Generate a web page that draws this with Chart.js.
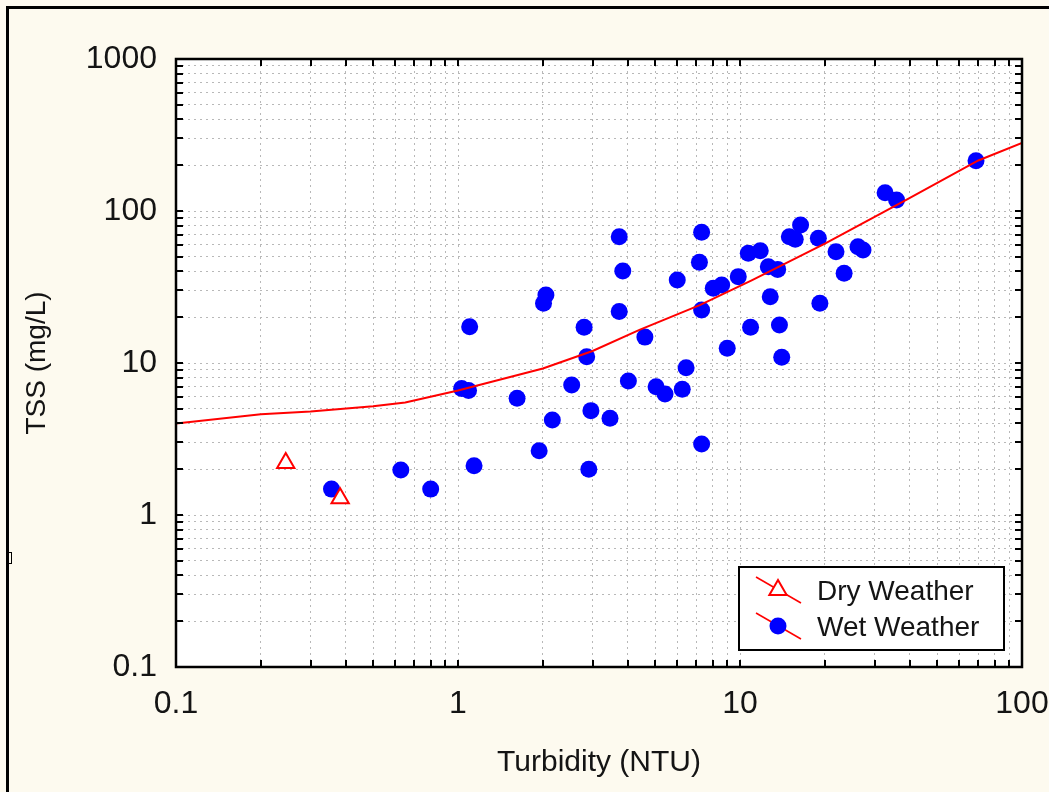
<!DOCTYPE html>
<html>
<head>
<meta charset="utf-8">
<title>TSS vs Turbidity</title>
<script src="https://cdn.jsdelivr.net/npm/chart.js@4/dist/chart.umd.min.js"></script>
<style>
  html, body { margin: 0; padding: 0; background: #fdfaef; }
  #wrap { width: 1049px; height: 792px; }
</style>
</head>
<body>
<div id="wrap"><canvas id="c" width="1049" height="792"></canvas></div>
<script>
// Dry weather samples
const dryTurbidity = [0.245, 0.382];
const dryTss       = [2.20, 1.29];

// Wet weather samples
const wetTurbidity = [0.356, 0.627, 0.80, 1.14, 1.94, 1.03, 1.09, 1.10, 1.62, 2.05,
                      2.01, 2.16, 2.53, 2.80, 2.86, 2.91, 2.96, 3.46, 3.73, 3.73,
                      3.84, 4.02, 4.60, 5.04, 5.42, 5.99, 6.24, 6.44, 7.31, 7.18,
                      7.31, 7.31, 8.04, 8.61, 9.01, 9.86, 10.7, 11.8, 10.9, 12.6,
                      13.6, 12.8, 13.8, 14.06, 14.96, 15.7, 16.4, 18.96, 19.2, 21.9,
                      23.4, 26.2, 27.3, 32.7, 35.9, 68.7];
const wetTss       = [1.48, 1.98, 1.48, 2.11, 2.65, 6.8, 6.6, 17.3, 5.86, 28,
                      24.7, 4.22, 7.16, 17.2, 11.0, 2.0, 4.86, 4.33, 67.7, 21.8,
                      40.3, 7.62, 14.8, 6.98, 6.25, 35.2, 6.71, 9.3, 72.4, 46,
                      22.3, 2.93, 31, 32.6, 12.5, 37, 52.7, 54.8, 17.2, 43,
                      41.3, 27.3, 17.8, 10.9, 67.7, 65.2, 80.9, 66.1, 24.7, 54,
                      38.9, 58.2, 55.4, 132, 118, 214];

// Regression curve
const fitTurbidity = [0.1, 0.2, 0.3, 0.5, 0.65, 1, 2, 3, 4.4, 7.2, 11, 20, 39, 70, 100];
const fitTss       = [4.0, 4.6, 4.8, 5.2, 5.5, 6.6, 9.2, 12.0, 16.5, 24, 35, 61, 119, 215, 280];

// Axis decades and their labels
const xDecades = [0.1, 1, 10, 100];
const xTickLabels = ['0.1', '1', '10', '100'];
const yDecades = [0.1, 1, 10, 100, 1000];
const yTickLabels = ['0.1', '1', '10', '100', '1000'];
const minorSteps = [1, 2, 3, 4, 5, 6, 7, 8, 9];

const CREAM = '#fdfaef';
const INK = '#141414';
const GRID = '#b8b8b8';

function logTickValues(decades) {
  const out = [];
  for (let i = 0; i < decades.length - 1; i++) {
    for (const m of minorSteps) out.push(Number((decades[i] * m).toPrecision(6)));
  }
  out.push(decades[decades.length - 1]);
  return out;
}
function labelFor(decades, labels) {
  return (v) => {
    const i = decades.findIndex(d => Math.abs(d - v) / d < 1e-6);
    return i >= 0 ? labels[i] : '';
  };
}
const pts = (xs, ys) => xs.map((x, i) => ({ x, y: ys[i] }));

Chart.defaults.font.family = "'Liberation Sans', Arial, sans-serif";
Chart.defaults.color = INK;

// Background, plot frame, inward tick marks and legend
const framePlugin = {
  id: 'framePlugin',
  beforeDraw(chart) {
    const { ctx, width, height, chartArea: a } = chart;
    ctx.save();
    ctx.fillStyle = CREAM;
    ctx.fillRect(0, 0, width, height);
    ctx.fillStyle = '#000';
    ctx.fillRect(6, 6, width - 6, 3);
    ctx.fillRect(6, 6, 3, height - 6);
    ctx.strokeStyle = '#000';
    ctx.lineWidth = 1;
    ctx.strokeRect(8.5, 552.5, 3, 11);
    ctx.fillStyle = '#ffffff';
    ctx.fillRect(a.left, a.top, a.right - a.left, a.bottom - a.top);
    ctx.restore();
  },
  afterDraw(chart) {
    const { ctx, chartArea: a, scales } = chart;
    const tl = 7;
    ctx.save();
    ctx.strokeStyle = '#000';
    ctx.lineWidth = 2;
    ctx.beginPath();
    for (const t of scales.x.ticks) {
      const px = Math.round(scales.x.getPixelForValue(t.value));
      ctx.moveTo(px, a.bottom); ctx.lineTo(px, a.bottom - tl);
      ctx.moveTo(px, a.top); ctx.lineTo(px, a.top + tl);
    }
    for (const t of scales.y.ticks) {
      const py = Math.round(scales.y.getPixelForValue(t.value));
      ctx.moveTo(a.left, py); ctx.lineTo(a.left + tl, py);
      ctx.moveTo(a.right, py); ctx.lineTo(a.right - tl, py);
    }
    ctx.stroke();
    ctx.lineWidth = 2.5;
    ctx.strokeRect(a.left, a.top, a.right - a.left, a.bottom - a.top);

    // legend box
    const bx = a.right - 283, by = a.bottom - 100, bw = 265, bh = 83;
    ctx.fillStyle = '#ffffff';
    ctx.fillRect(bx, by, bw, bh);
    ctx.lineWidth = 2;
    ctx.strokeStyle = '#000';
    ctx.strokeRect(bx, by, bw, bh);

    const entries = chart.data.datasets.filter(d => d.inLegend);
    entries.forEach((ds, i) => {
      const y0 = by + 10 + i * 36;
      ctx.strokeStyle = '#ff0000';
      ctx.lineWidth = 1.5;
      ctx.beginPath();
      ctx.moveTo(bx + 17, y0);
      ctx.lineTo(bx + 62, y0 + 26);
      ctx.stroke();
      const mx = bx + 39, my = y0 + 13;
      ctx.beginPath();
      if (ds.pointStyle === 'triangle') {
        const r = ds.pointRadius;
        for (let k = 0; k < 3; k++) {
          const ang = k * 2 * Math.PI / 3;
          const px = mx + Math.sin(ang) * r, py = my - Math.cos(ang) * r;
          if (k === 0) ctx.moveTo(px, py); else ctx.lineTo(px, py);
        }
        ctx.closePath();
      } else {
        ctx.arc(mx, my, ds.pointRadius, 0, Math.PI * 2);
      }
      ctx.fillStyle = ds.backgroundColor;
      ctx.fill();
      if (ds.borderWidth) {
        ctx.strokeStyle = ds.borderColor;
        ctx.lineWidth = ds.borderWidth;
        ctx.stroke();
      }
      ctx.fillStyle = INK;
      ctx.font = "28px 'Liberation Sans', Arial, sans-serif";
      ctx.textBaseline = 'middle';
      ctx.textAlign = 'left';
      ctx.fillText(ds.label, bx + 78, my + 2);
    });
    ctx.restore();
  }
};

new Chart(document.getElementById('c'), {
  type: 'scatter',
  data: {
    datasets: [
      {
        label: 'Fit',
        data: pts(fitTurbidity, fitTss),
        showLine: true,
        borderColor: '#ff0000',
        borderWidth: 2,
        pointRadius: 0,
        tension: 0,
        fill: false,
        order: 0
      },
      {
        label: 'Dry Weather',
        inLegend: true,
        data: pts(dryTurbidity, dryTss),
        pointStyle: 'triangle',
        pointRadius: 10,
        borderColor: '#ff0000',
        backgroundColor: '#ffffff',
        borderWidth: 2,
        order: 1
      },
      {
        label: 'Wet Weather',
        inLegend: true,
        data: pts(wetTurbidity, wetTss),
        pointStyle: 'circle',
        pointRadius: 8.5,
        backgroundColor: '#0000ff',
        borderColor: '#0000ff',
        borderWidth: 0,
        order: 2
      }
    ]
  },
  options: {
    responsive: false,
    animation: false,
    events: [],
    layout: { padding: { left: 0, top: 59, right: 27, bottom: 0 } },
    plugins: { legend: { display: false }, tooltip: { enabled: false } },
    scales: {
      x: {
        type: 'logarithmic',
        position: 'bottom',
        min: 0.1,
        max: 100,
        afterBuildTicks(scale) {
          scale.ticks = logTickValues(xDecades).map(v => ({ value: v }));
        },
        afterFit(scale) {
          scale.height = 125;
          scale.paddingLeft = 0;
          scale.paddingRight = 0;
        },
        ticks: {
          autoSkip: false,
          maxRotation: 0,
          font: { size: 32 },
          color: INK,
          padding: 18,
          callback: labelFor(xDecades, xTickLabels)
        },
        grid: { color: GRID, lineWidth: 1, drawTicks: false, borderDash: [2, 4] },
        border: { display: false, dash: [2, 4] },
        title: {
          display: true,
          text: 'Turbidity (NTU)',
          font: { size: 30 },
          color: INK,
          padding: { top: 0, bottom: 11 }
        }
      },
      y: {
        type: 'logarithmic',
        position: 'left',
        min: 0.1,
        max: 1000,
        afterBuildTicks(scale) {
          scale.ticks = logTickValues(yDecades).map(v => ({ value: v }));
        },
        afterFit(scale) {
          scale.width = 176;
          scale.paddingTop = 0;
          scale.paddingBottom = 0;
        },
        ticks: {
          autoSkip: false,
          font: { size: 32 },
          color: INK,
          padding: 19,
          callback: labelFor(yDecades, yTickLabels)
        },
        grid: { color: GRID, lineWidth: 1, drawTicks: false, borderDash: [2, 4] },
        border: { display: false, dash: [2, 4] },
        title: {
          display: true,
          text: 'TSS (mg/L)',
          font: { size: 28 },
          color: INK,
          padding: { top: 20, bottom: 0 }
        }
      }
    }
  },
  plugins: [framePlugin]
});
</script>
</body>
</html>
